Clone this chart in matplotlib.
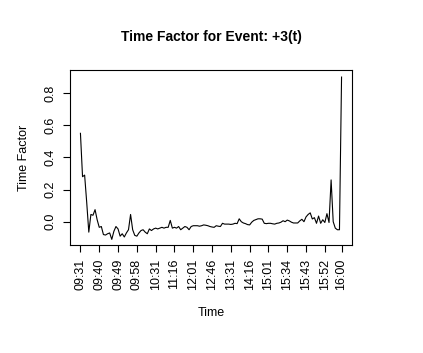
import matplotlib
matplotlib.use("Agg")
import matplotlib.pyplot as plt

# time factor per minute-slot
factor = [
    0.55, 0.28, 0.29, 0.12, -0.065, 0.045, 0.04, 0.075, 0.012, -0.035,
    -0.03, -0.08, -0.083, -0.075, -0.07, -0.11, -0.06, -0.03, -0.045, -0.09,
    -0.075, -0.095, -0.07, -0.05, 0.045, -0.05, -0.085, -0.09, -0.07, -0.055,
    -0.05, -0.065, -0.075, -0.045, -0.055, -0.045, -0.04, -0.045, -0.04, -0.035,
    -0.04, -0.035, -0.035, 0.008, -0.04, -0.035, -0.04, -0.03, -0.05, -0.04,
    -0.03, -0.035, -0.05, -0.03, -0.025, -0.025, -0.025, -0.028, -0.025, -0.02,
    -0.022, -0.025, -0.03, -0.033, -0.035, -0.025, -0.028, -0.03, -0.01, -0.015,
    -0.015, -0.015, -0.017, -0.015, -0.01, -0.012, 0.018, 0.0, -0.008, -0.012,
    -0.018, -0.02, -0.003, 0.008, 0.013, 0.018, 0.018, 0.016, -0.01, -0.012,
    -0.01, -0.01, -0.013, -0.015, -0.01, -0.008, -0.003, 0.006, 0.0, 0.01,
    0.005, -0.003, -0.008, -0.008, -0.008, 0.005, 0.015, 0.0, 0.03, 0.045,
    0.055, 0.017, 0.025, -0.01, 0.035, -0.01, 0.012, -0.005, 0.05, -0.005,
    0.26, 0.0, -0.04, -0.05, -0.05, 0.9,
]
tick_pos = [1, 10, 19, 28, 37, 46, 55, 64, 73, 82, 91, 100, 109, 118, 126]
tick_labels = ["09:31", "09:40", "09:49", "09:58", "10:31", "11:16", "12:01",
               "12:46", "13:31", "14:16", "15:01", "15:34", "15:43", "15:52",
               "16:00"]
y_ticks = [0.0, 0.2, 0.4, 0.6, 0.8]

plt.rcParams["font.family"] = ["Liberation Sans", "DejaVu Sans"]

fig = plt.figure(figsize=(4.23, 3.53), dpi=100)
ax = fig.add_axes([70 / 423, 1 - 245 / 353, 282 / 423, 175 / 353])

x = list(range(1, len(factor) + 1))
ax.plot(x, factor, color="black", lw=0.8)

ax.set_xlim(-4, 131)
ax.set_ylim(-0.145, 0.944)

ax.set_xticks(tick_pos)
ax.set_xticklabels(tick_labels, rotation=90, fontsize=9)
ax.set_yticks(y_ticks)
ax.set_yticklabels(["0.0", "0.2", "0.4", "0.6", "0.8"], rotation=90,
                   va="center", fontsize=9)
ax.tick_params(direction="out", length=5, width=0.8, pad=5)

for s in ax.spines.values():
    s.set_linewidth(0.8)

ax.set_xlabel("Time", fontsize=9, labelpad=12)
ax.set_ylabel("Time Factor", fontsize=9, labelpad=10)
fig.text(0.5 * (70 + 352) / 423, 1 - 37 / 353, "Time Factor for Event: +3(t)",
         ha="center", va="center", fontsize=10, fontweight="bold")

fig.savefig("out.png", dpi=100)
